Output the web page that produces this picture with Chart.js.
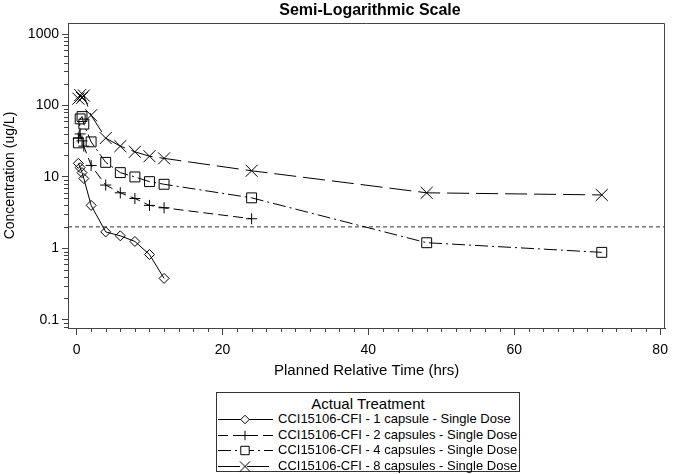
<!DOCTYPE html>
<html>
<head>
<meta charset="utf-8">
<script src="https://cdn.jsdelivr.net/npm/chart.js@4/dist/chart.umd.min.js"></script>
<style>
html,body{margin:0;padding:0;background:#fff;}
#wrap{position:relative;width:675px;height:474px;font-family:"Liberation Sans",Arial,sans-serif;color:#000;overflow:hidden;}
#chart{position:absolute;left:0;top:0;}
#title{position:absolute;left:170px;top:1px;width:400px;text-align:center;font-weight:bold;font-size:16px;line-height:18px;}
#legend{position:absolute;left:216px;top:392px;width:302px;height:78px;border:1px solid #333;background:#fff;}
#legend .lt{position:absolute;left:0;top:2px;width:100%;text-align:center;font-size:15px;line-height:17px;}
#legend .row{position:absolute;left:0;height:16px;line-height:16px;font-size:13px;white-space:nowrap;}
#legend .row canvas{position:absolute;left:0;top:0;}
#legend .row span{position:absolute;left:61px;top:0;}
</style>
</head>
<body>
<div id="wrap">
  <canvas id="chart" width="675" height="474"></canvas>
  <div id="title">Semi-Logarithmic Scale</div>
  <div id="legend"></div>
</div>
<script>
// ---------- data ----------
const seriesNames = [
  "CCI15106-CFI - 1 capsule - Single Dose",
  "CCI15106-CFI - 2 capsules - Single Dose",
  "CCI15106-CFI - 4 capsules - Single Dose",
  "CCI15106-CFI - 8 capsules - Single Dose"
];
const times1 = [0.25, 0.5, 0.75, 1, 2, 4, 6, 8, 10, 12];
const conc1  = [15.5, 13.5, 11.5, 9.5, 4.0, 1.7, 1.5, 1.25, 0.82, 0.38];
const times2 = [0.25, 0.5, 0.75, 1, 2, 4, 6, 8, 10, 12, 24];
const conc2  = [35, 40, 32, 27, 14.5, 7.7, 6.0, 5.0, 4.0, 3.7, 2.6];
const times4 = [0.25, 0.5, 0.75, 1, 2, 4, 6, 8, 10, 12, 24, 48, 72];
const conc4  = [30, 65, 70, 55, 31, 16, 11.5, 10, 8.6, 7.9, 5.1, 1.2, 0.88];
const times8 = [0.25, 0.5, 0.75, 1, 2, 4, 6, 8, 10, 12, 24, 48, 72];
const conc8  = [125, 140, 128, 138, 73, 35, 27, 22.5, 19.5, 18.2, 12.2, 6.0, 5.6];
const lloq = 2;
const xTicks = [0, 20, 40, 60, 80];
const yTicks = [0.1, 1, 10, 100, 1000];

// ---------- styling ----------
const FONT = '"Liberation Sans", Arial, sans-serif';
const AX = '#444';
const X_MIN = -1.17, X_MAX = 80.7, Y_MIN = 0.0768, Y_MAX = 1430;
const styles = [
  {pointStyle:'rectRot', radius:5, dash:[]},
  {pointStyle:'cross', radius:5.5, dash:[10,5]},
  {pointStyle:'rect', radius:7, dash:[13,4,2,4]},
  {pointStyle:'crossRot', radius:8.5, dash:[22,7]}
];
const allTimes = [times1, times2, times4, times8];
const allConc = [conc1, conc2, conc4, conc8];

const datasets = seriesNames.map((name, i) => ({
  label: name,
  data: allTimes[i].map((t, j) => ({x: t, y: allConc[i][j]})),
  showLine: true,
  borderColor: '#000',
  borderWidth: 1,
  borderDash: styles[i].dash,
  backgroundColor: 'rgba(0,0,0,0)',
  pointStyle: styles[i].pointStyle,
  pointRadius: styles[i].radius,
  pointBorderWidth: 1,
  pointBorderColor: '#000',
  pointBackgroundColor: 'rgba(0,0,0,0)',
  tension: 0
}));
datasets.push({
  label: 'LLOQ',
  data: [{x: X_MIN, y: lloq}, {x: X_MAX, y: lloq}],
  showLine: true,
  borderColor: '#333',
  borderWidth: 1,
  borderDash: [4, 3],
  pointRadius: 0,
  inLegend: false
});

const framePlugin = {
  id: 'frame',
  afterDraw(chart) {
    const {ctx, chartArea: a, scales} = chart;
    ctx.save();
    ctx.strokeStyle = AX;
    ctx.lineWidth = 1;
    ctx.beginPath();
    ctx.moveTo(Math.round(a.left) + 0.5, Math.round(a.top) + 0.5);
    ctx.lineTo(Math.round(a.right) - 0.5, Math.round(a.top) + 0.5);
    ctx.lineTo(Math.round(a.right) - 0.5, Math.round(a.bottom) + 0.5);
    ctx.stroke();
    // minor ticks
    ctx.beginPath();
    const xs = scales.x, ys = scales.y;
    for (let v = 2; v < 80; v += 2) {
      if (v % 20 === 0) continue;
      const px = Math.round(xs.getPixelForValue(v)) + 0.5;
      ctx.moveTo(px, Math.round(a.bottom));
      ctx.lineTo(px, Math.round(a.bottom) + 4);
    }
    for (let d = -2; d <= 3; d++) {
      for (let k = 2; k <= 9; k++) {
        const v = k * Math.pow(10, d);
        if (v < Y_MIN || v > Y_MAX) continue;
        const py = Math.round(ys.getPixelForValue(v)) + 0.5;
        ctx.moveTo(Math.round(a.left), py);
        ctx.lineTo(Math.round(a.left) - 4, py);
      }
    }
    ctx.stroke();
    ctx.restore();
  }
};

const chart = new Chart(document.getElementById('chart'), {
  type: 'scatter',
  data: {datasets},
  options: {
    responsive: false,
    animation: false,
    devicePixelRatio: 1,
    layout: {padding: {left: 0, right: 6, top: 23, bottom: 86}},
    plugins: {legend: {display: false}, title: {display: false}, tooltip: {enabled: false}},
    scales: {
      x: {
        type: 'linear', min: X_MIN, max: X_MAX, bounds: 'data',
        afterBuildTicks: s => { s.ticks = xTicks.map(v => ({value: v})); },
        afterFit: s => { s.height = 60; },
        grid: {drawOnChartArea: false, drawTicks: true, tickLength: 7, color: AX},
        border: {display: true, color: AX},
        ticks: {font: {size: 14, family: FONT}, color: '#000', padding: 7, maxRotation: 0, callback: v => String(v)},
        title: {display: true, text: 'Planned Relative Time (hrs)', font: {size: 15, family: FONT}, color: '#000', padding: {top: 0, bottom: 8}}
      },
      y: {
        type: 'logarithmic', min: Y_MIN, max: Y_MAX, bounds: 'data',
        afterBuildTicks: s => { s.ticks = yTicks.map(v => ({value: v})); },
        afterFit: s => { s.width = 68; },
        grid: {drawOnChartArea: false, drawTicks: true, tickLength: 6, color: AX},
        border: {display: true, color: AX},
        ticks: {font: {size: 14, family: FONT}, color: '#000', padding: 3, callback: v => String(v)},
        title: {display: true, text: 'Concentration (ug/L)', font: {size: 14, family: FONT}, color: '#000', padding: {top: 2, bottom: 0}}
      }
    }
  },
  plugins: [framePlugin]
});

// ---------- HTML legend built from the chart's datasets ----------
(function buildLegend() {
  const box = document.getElementById('legend');
  const t = document.createElement('div');
  t.className = 'lt';
  t.textContent = 'Actual Treatment';
  box.appendChild(t);
  const rowTops = [18, 33.5, 49, 65];
  chart.data.datasets.filter(d => d.inLegend !== false).forEach((ds, i) => {
    const row = document.createElement('div');
    row.className = 'row';
    row.style.top = rowTops[i] + 'px';
    const c = document.createElement('canvas');
    c.width = 57; c.height = 16;
    const g = c.getContext('2d');
    g.strokeStyle = '#000';
    g.lineWidth = 1;
    g.setLineDash(ds.borderDash || []);
    g.beginPath();
    g.moveTo(1, 8.5); g.lineTo(56, 8.5);
    g.stroke();
    g.setLineDash([]);
    g.fillStyle = '#fff';
    Chart.helpers.drawPoint(g, {pointStyle: ds.pointStyle, radius: ds.pointRadius * 0.85, rotation: 0, borderWidth: 1}, 28, 8.5);
    row.appendChild(c);
    const s = document.createElement('span');
    s.textContent = ds.label;
    row.appendChild(s);
    box.appendChild(row);
  });
})();
</script>
</body>
</html>
